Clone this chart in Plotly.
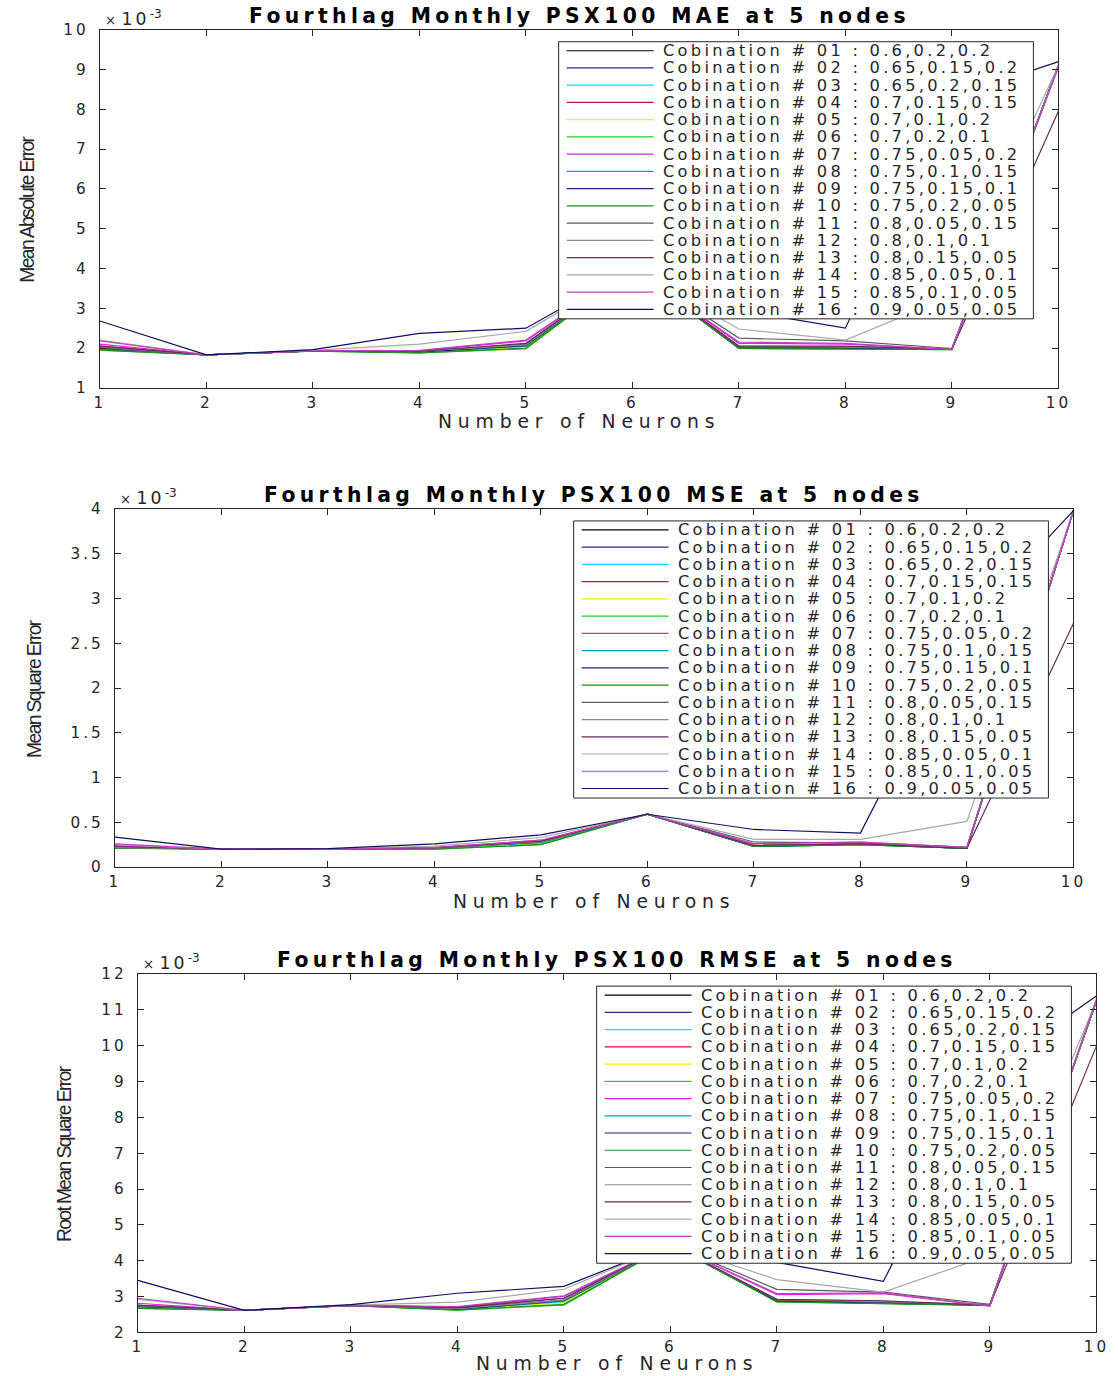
import plotly.graph_objects as go

W, H = 1118, 1376

# The photographed page is slightly reduced (about 1.5 %) and carries the
# 8 px body margin; positions below are given in photographed pixels and
# mapped back to figure pixels by these constants.
SX, CX = 0.9835, -3.8
SY, CY = 0.9865, 0.4
BODY = 8
K = 1 / SX  # size factor for fonts and spacing

# Number of hidden neurons on the x axis
neurons = [1, 2, 3, 4, 5, 6, 7, 8, 9, 10]

# Weight combinations used for each run
weights = [
    "0.6,0.2,0.2", "0.65,0.15,0.2", "0.65,0.2,0.15", "0.7,0.15,0.15",
    "0.7,0.1,0.2", "0.7,0.2,0.1", "0.75,0.05,0.2", "0.75,0.1,0.15",
    "0.75,0.15,0.1", "0.75,0.2,0.05", "0.8,0.05,0.15", "0.8,0.1,0.1",
    "0.8,0.15,0.05", "0.85,0.05,0.1", "0.85,0.1,0.05", "0.9,0.05,0.05",
]

colors = [
    "#000000", "#2a2a8a", "#00e0f0", "#d01030", "#f0f000", "#20d020",
    "#e020e0", "#10a0b0", "#202080", "#209020", "#5a5a5a", "#8a8a8a",
    "#6a2a5a", "#a8a8a8", "#c040c0", "#101060",
]

# Mean absolute error (x 1e-3), one row per combination
mae = [
    [2.02, 1.83, 1.93, 1.90, 2.07, 4.0, 2.00, 2.00, 1.97, 9.10],
    [2.00, 1.83, 1.93, 1.91, 2.08, 4.0, 2.02, 2.01, 1.98, 9.10],
    [1.99, 1.83, 1.93, 1.90, 2.05, 4.0, 2.01, 2.00, 1.97, 9.10],
    [2.05, 1.83, 1.93, 1.91, 2.08, 4.0, 2.02, 2.02, 1.98, 9.10],
    [1.97, 1.83, 1.92, 1.89, 2.03, 4.0, 2.00, 1.99, 1.97, 9.10],
    [1.95, 1.83, 1.92, 1.88, 1.98, 4.0, 1.99, 1.98, 1.96, 9.10],
    [2.10, 1.83, 1.93, 1.93, 2.18, 4.0, 2.12, 2.10, 1.97, 9.10],
    [1.98, 1.83, 1.93, 1.90, 2.05, 4.0, 2.01, 2.00, 1.97, 9.10],
    [2.00, 1.83, 1.93, 1.90, 2.06, 4.0, 2.00, 2.00, 1.97, 9.10],
    [1.95, 1.83, 1.92, 1.88, 2.00, 4.0, 1.99, 1.98, 1.96, 9.10],
    [2.02, 1.83, 1.93, 1.92, 2.10, 4.0, 2.25, 2.18, 1.99, 9.10],
    [2.03, 1.83, 1.93, 1.92, 2.08, 4.0, 2.05, 2.03, 1.98, 9.10],
    [2.05, 1.83, 1.93, 1.92, 2.12, 4.0, 2.05, 2.05, 1.97, 7.95],
    [2.20, 1.83, 1.94, 2.10, 2.42, 4.0, 2.48, 2.20, 3.30, 9.10],
    [2.18, 1.83, 1.93, 1.94, 2.20, 4.0, 2.15, 2.12, 1.96, 9.05],
    [2.68, 1.83, 1.96, 2.37, 2.50, 4.0, 2.95, 2.50, 8.30, 9.20],
]

# Mean square error (x 1e-3)
mse = [
    [0.22, 0.20, 0.20, 0.210, 0.28, 0.59, 0.23, 0.26, 0.21, 3.98],
    [0.22, 0.20, 0.20, 0.210, 0.28, 0.59, 0.24, 0.26, 0.21, 3.98],
    [0.22, 0.20, 0.20, 0.210, 0.27, 0.59, 0.23, 0.25, 0.21, 3.98],
    [0.23, 0.20, 0.20, 0.210, 0.28, 0.59, 0.24, 0.26, 0.22, 3.98],
    [0.21, 0.20, 0.20, 0.205, 0.26, 0.59, 0.23, 0.25, 0.21, 3.98],
    [0.21, 0.20, 0.20, 0.200, 0.25, 0.59, 0.23, 0.25, 0.21, 3.98],
    [0.24, 0.20, 0.20, 0.215, 0.30, 0.59, 0.26, 0.28, 0.22, 3.98],
    [0.22, 0.20, 0.20, 0.210, 0.27, 0.59, 0.23, 0.25, 0.21, 3.98],
    [0.22, 0.20, 0.20, 0.210, 0.28, 0.59, 0.23, 0.26, 0.21, 3.98],
    [0.21, 0.20, 0.20, 0.200, 0.25, 0.59, 0.23, 0.25, 0.21, 3.98],
    [0.22, 0.20, 0.20, 0.215, 0.29, 0.59, 0.28, 0.27, 0.22, 3.98],
    [0.22, 0.20, 0.20, 0.210, 0.28, 0.59, 0.24, 0.26, 0.22, 3.98],
    [0.23, 0.20, 0.20, 0.215, 0.29, 0.59, 0.24, 0.26, 0.21, 2.72],
    [0.25, 0.20, 0.20, 0.235, 0.33, 0.59, 0.31, 0.31, 0.51, 3.98],
    [0.26, 0.20, 0.20, 0.220, 0.30, 0.59, 0.26, 0.28, 0.22, 3.98],
    [0.335, 0.20, 0.205, 0.26, 0.36, 0.59, 0.42, 0.38, 2.70, 3.98],
]

# Root mean square error (x 1e-3)
rmse = [
    [2.72, 2.61, 2.75, 2.64, 2.88, 4.45, 2.87, 2.82, 2.76, 11.25],
    [2.72, 2.61, 2.75, 2.65, 2.90, 4.45, 2.88, 2.83, 2.77, 11.25],
    [2.70, 2.61, 2.74, 2.64, 2.86, 4.45, 2.87, 2.82, 2.76, 11.25],
    [2.75, 2.61, 2.75, 2.65, 2.90, 4.45, 2.89, 2.84, 2.77, 11.25],
    [2.69, 2.61, 2.74, 2.63, 2.82, 4.45, 2.86, 2.81, 2.76, 11.25],
    [2.67, 2.61, 2.74, 2.62, 2.76, 4.45, 2.85, 2.80, 2.75, 11.25],
    [2.81, 2.61, 2.75, 2.70, 3.00, 4.45, 3.05, 3.08, 2.73, 11.25],
    [2.70, 2.61, 2.75, 2.64, 2.86, 4.45, 2.87, 2.82, 2.76, 11.25],
    [2.72, 2.61, 2.75, 2.64, 2.88, 4.45, 2.87, 2.82, 2.76, 11.25],
    [2.67, 2.61, 2.74, 2.62, 2.78, 4.45, 2.85, 2.80, 2.75, 11.25],
    [2.74, 2.61, 2.75, 2.70, 2.95, 4.45, 3.20, 3.12, 2.78, 11.25],
    [2.74, 2.61, 2.75, 2.66, 2.90, 4.45, 2.92, 2.86, 2.77, 11.25],
    [2.76, 2.61, 2.75, 2.68, 2.95, 4.45, 2.92, 2.88, 2.75, 9.99],
    [2.92, 2.61, 2.76, 2.84, 3.20, 4.45, 3.47, 3.12, 4.15, 11.25],
    [2.95, 2.61, 2.75, 2.72, 3.02, 4.45, 3.08, 3.10, 2.73, 11.30],
    [3.45, 2.61, 2.77, 3.09, 3.28, 4.45, 3.95, 3.42, 9.30, 11.39],
]

# Tick labels of the y axes
mae_yticks = [1, 2, 3, 4, 5, 6, 7, 8, 9, 10]
mse_yticks = [0, 0.5, 1, 1.5, 2, 2.5, 3, 3.5, 4]
rmse_yticks = [2, 3, 4, 5, 6, 7, 8, 9, 10, 11, 12]

# Panel boxes in photographed pixels
panels = [
    dict(values=mae, metric="MAE", ylabel="Mean Absolute Error", yticks=mae_yticks,
         left=98, right=1057, top=29, bottom=387, ylab_x=26, xlab_dy=34, xstand=1),
    dict(values=mse, metric="MSE", ylabel="Mean Square Error", yticks=mse_yticks,
         left=113, right=1072, top=508, bottom=866, ylab_x=33, xlab_dy=34, xstand=1),
    dict(values=rmse, metric="RMSE", ylabel="Root Mean Square Error", yticks=rmse_yticks,
         left=136, right=1095, top=973, bottom=1331, ylab_x=62, xlab_dy=31, xstand=0),
]

INK = "#262626"
FONT = "DejaVu Sans"


def fx(t):
    return ((t - CX) / SX - BODY) / W


def fy(t):
    return 1 - ((t - CY) / SY - BODY) / H


def sz(v):
    return round(v * K, 2)


def spaced(text, px):
    return f'<span style="letter-spacing:{sz(px)}px">{text}</span>'


fig = go.Figure()
shapes = []
annotations = []
layout = {}

for i, p in enumerate(panels):
    sfx = "" if i == 0 else str(i + 1)
    xa, ya = "x" + sfx, "y" + sfx

    for s in range(16):
        fig.add_trace(go.Scatter(
            x=neurons, y=p["values"][s], mode="lines",
            name=f"Cobination # {s + 1:02d} : {weights[s]}",
            line=dict(color=colors[s], width=1.2),
            xaxis=xa, yaxis=ya, showlegend=False, hoverinfo="skip",
        ))

    yt = p["yticks"]
    layout["xaxis" + sfx] = dict(
        domain=[fx(p["left"]), fx(p["right"])], anchor=ya,
        range=[neurons[0], neurons[-1]],
        tickvals=neurons, ticktext=[spaced(str(n), 3) for n in neurons],
        ticks="inside", ticklen=6, tickcolor=INK, showline=True, linecolor=INK,
        linewidth=1, mirror="allticks", showgrid=False, zeroline=False,
        tickfont=dict(family=FONT, size=sz(15), color=INK),
        ticklabelstandoff=p["xstand"],
    )
    layout["yaxis" + sfx] = dict(
        domain=[fy(p["bottom"]), fy(p["top"])], anchor=xa,
        range=[yt[0], yt[-1]],
        tickvals=yt, ticktext=[spaced(f"{v:g}", 3) for v in yt],
        ticks="inside", ticklen=6, tickcolor=INK, showline=True, linecolor=INK,
        linewidth=1, mirror="allticks", showgrid=False, zeroline=False,
        tickfont=dict(family=FONT, size=sz(15), color=INK), ticklabelstandoff=7,
    )

    cx = (p["left"] + p["right"]) / 2
    # panel title
    annotations.append(dict(
        x=fx(cx), y=fy(p["top"] - 14), xref="paper", yref="paper",
        text=spaced(f"Fourthlag Monthly PSX100 {p['metric']} at 5 nodes", 4.3),
        showarrow=False, xanchor="center", yanchor="middle",
        font=dict(family=FONT, size=sz(20), color="#000000", weight="bold"),
    ))
    # x axis label
    annotations.append(dict(
        x=fx(cx), y=fy(p["bottom"] + p["xlab_dy"]), xref="paper", yref="paper",
        text=spaced("Number of Neurons", 5.7), showarrow=False,
        xanchor="center", yanchor="middle",
        font=dict(family=FONT, size=sz(18.5), color=INK),
    ))
    # y axis label
    annotations.append(dict(
        x=fx(p["ylab_x"]), y=fy((p["top"] + p["bottom"]) / 2), xref="paper", yref="paper",
        text=spaced(p["ylabel"], -1.6), showarrow=False, textangle=-90,
        xanchor="center", yanchor="middle",
        font=dict(family="Liberation Sans", size=sz(19), color=INK),
    ))
    # exponent marker
    annotations.append(dict(
        x=fx(p["left"] + 3), y=fy(p["top"] - 12), xref="paper", yref="paper",
        text=f'<span style="font-size:{sz(13)}px">×</span> ' + spaced("10", 3) + "<sup>-3</sup>",
        showarrow=False, xanchor="left", yanchor="middle",
        font=dict(family=FONT, size=sz(17), color=INK),
    ))

    # legend box with line samples and labels
    bl, br = p["left"] + 459, p["left"] + 934
    bt, bb = p["top"] + 12, p["top"] + 289
    shapes.append(dict(
        type="rect", xref="paper", yref="paper",
        x0=fx(bl), x1=fx(br), y0=fy(bb), y1=fy(bt),
        fillcolor="white", line=dict(color=INK, width=1), layer="above",
    ))
    for s in range(16):
        yc = p["top"] + 21 + s * 17.23
        shapes.append(dict(
            type="line", xref="paper", yref="paper",
            x0=fx(bl + 8), x1=fx(bl + 95), y0=fy(yc), y1=fy(yc),
            line=dict(color=colors[s], width=1.2), layer="above",
        ))
        annotations.append(dict(
            x=fx(bl + 102), y=fy(yc), xref="paper", yref="paper",
            text=spaced(f"Cobination # {s + 1:02d} : {weights[s]}", 3.2),
            showarrow=False, xanchor="left", yanchor="middle",
            font=dict(family=FONT, size=sz(16), color=INK),
        ))

fig.update_layout(
    width=W, height=H, autosize=False,
    margin=dict(l=0, r=0, t=0, b=0),
    paper_bgcolor="white", plot_bgcolor="white",
    shapes=shapes, annotations=annotations, showlegend=False,
    **layout,
)

fig.write_html("out.html")
